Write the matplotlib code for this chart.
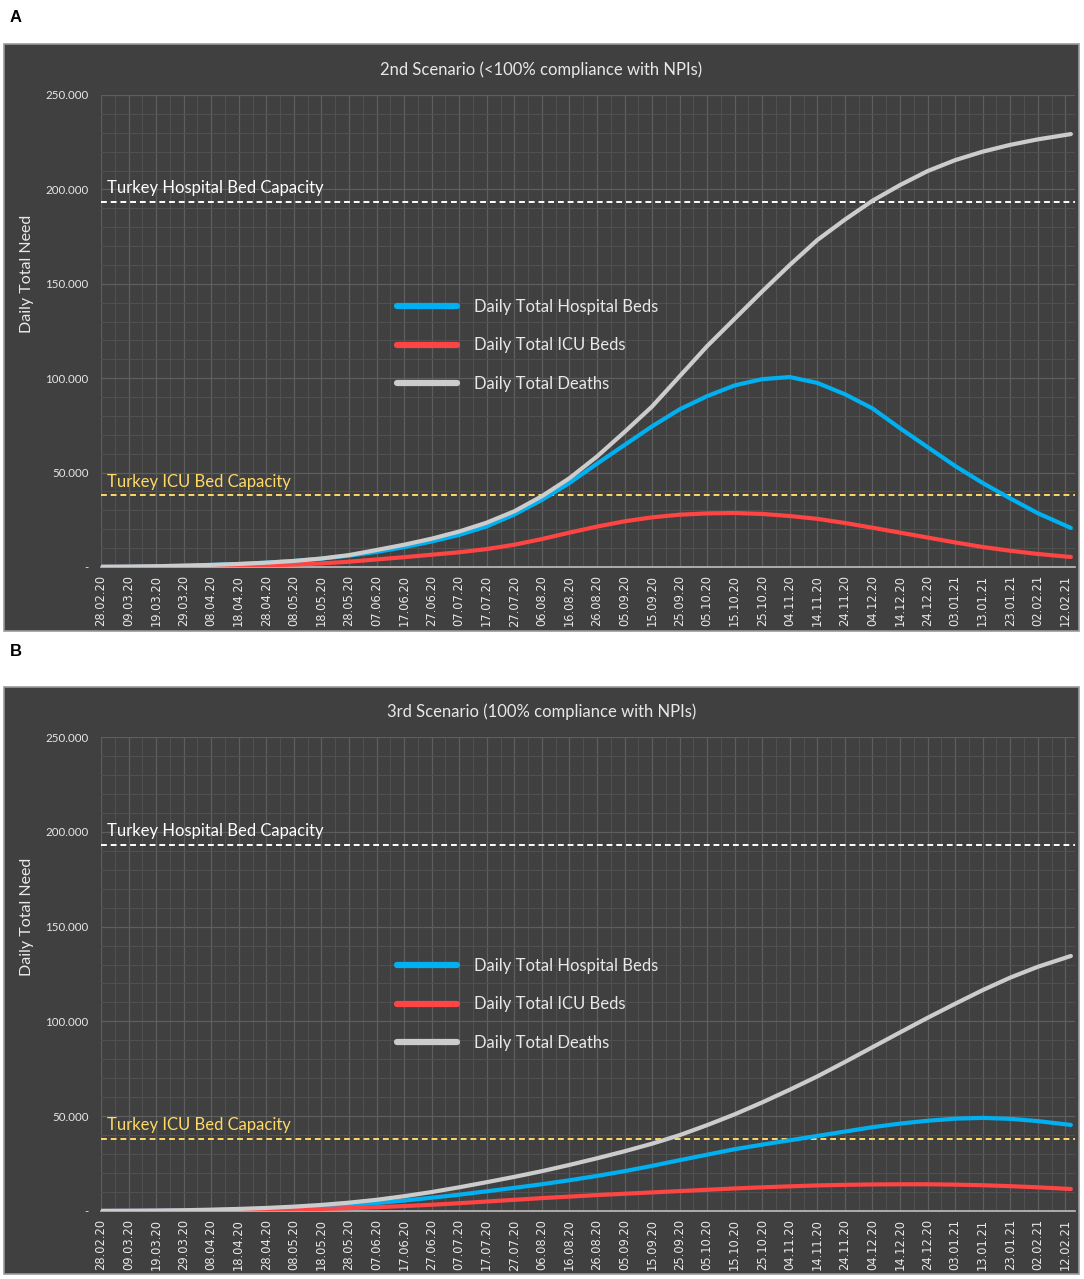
import matplotlib
matplotlib.use("Agg")
import matplotlib.pyplot as plt
import matplotlib.dates as mdates
from matplotlib.patches import Rectangle
from matplotlib.ticker import FuncFormatter, MultipleLocator
import pandas as pd

# ---------------- data ----------------
start = pd.Timestamp("2020-02-28")
day_offsets = list(range(0, 350, 10)) + [352]
dates = [start + pd.Timedelta(days=d) for d in day_offsets]

tick_dates = [start + pd.Timedelta(days=d) for d in range(0, 351, 10)]

hosp_capacity = 193300
icu_capacity = 38100

# Scenario 2 (values in thousands)
s2_hospital = [0.1, 0.2, 0.4, 0.7, 1.1, 1.6, 2.3, 3.2, 4.4, 6.0, 8.0, 10.5, 13.5, 17.0,
               21.5, 27.8, 35.5, 44.5, 54.7, 64.6, 74.5, 83.5, 90.5, 96.2, 99.5, 100.6,
               97.5, 91.5, 84.0, 73.5, 63.5, 53.5, 44.5, 36.3, 28.5, 20.7]
s2_icu = [0.05, 0.1, 0.15, 0.25, 0.4, 0.6, 0.9, 1.3, 1.9, 2.8, 4.0, 5.2, 6.5, 7.8,
          9.5, 11.8, 14.8, 18.2, 21.4, 24.2, 26.3, 27.7, 28.4, 28.6, 28.1, 27.0,
          25.5, 23.3, 20.8, 18.2, 15.6, 13.0, 10.6, 8.6, 6.9, 5.3]
s2_deaths = [0.1, 0.2, 0.4, 0.7, 1.1, 1.6, 2.3, 3.2, 4.5, 6.3, 9.0, 11.8, 15.0, 18.8,
             23.5, 29.5, 37.5, 47.0, 58.5, 71.5, 85.0, 101.0, 117.0, 131.5, 146.0, 160.0,
             173.2, 184.0, 194.0, 202.3, 209.7, 215.5, 220.0, 223.6, 226.5, 229.3]

# Scenario 3 (values in thousands)
s3_hospital = [0.05, 0.1, 0.2, 0.3, 0.5, 0.8, 1.2, 1.7, 2.4, 3.2, 4.2, 5.5, 7.0, 8.6,
               10.4, 12.2, 14.1, 16.2, 18.5, 21.0, 23.8, 26.8, 29.7, 32.6, 35.0, 37.3,
               39.6, 41.9, 44.2, 46.1, 47.6, 48.7, 49.1, 48.6, 47.4, 45.4]
s3_icu = [0.02, 0.05, 0.1, 0.15, 0.25, 0.4, 0.55, 0.8, 1.1, 1.5, 2.0, 2.6, 3.3, 4.1,
          5.0, 5.9, 6.8, 7.6, 8.4, 9.1, 9.8, 10.5, 11.2, 11.9, 12.5, 13.0,
          13.5, 13.8, 14.0, 14.1, 14.1, 13.9, 13.6, 13.1, 12.5, 11.6]
s3_deaths = [0.05, 0.1, 0.2, 0.4, 0.7, 1.1, 1.6, 2.3, 3.2, 4.4, 5.9, 7.8, 10.0, 12.5,
             15.2, 18.0, 21.0, 24.3, 27.8, 31.5, 35.5, 40.0, 45.3, 51.0, 57.3, 64.0,
             71.0, 78.6, 86.4, 94.2, 101.9, 109.3, 116.5, 123.1, 128.8, 134.5]

series_labels = ["Daily Total Hospital Beds", "Daily Total ICU Beds", "Daily Total Deaths"]
series_colors = ["#00b0f0", "#ff4444", "#cccccc"]

titles = ["2nd Scenario (<100% compliance with NPIs)", "3rd Scenario (100% compliance with NPIs)"]
panel_letters = ["A", "B"]
ylabel = "Daily Total Need"
hosp_text = "Turkey Hospital Bed Capacity"
icu_text = "Turkey ICU Bed Capacity"

# ---------------- figure ----------------
W, H = 1084, 1279
fig = plt.figure(figsize=(W / 100, H / 100), dpi=100)
fig.patch.set_facecolor("white")
FONT = ["Lato", "DejaVu Sans"]
plt.rcParams["font.family"] = FONT

BG = "#404040"
TXT = "#e8e8e8"
YEL = "#ffd966"

panels = [
    dict(box=(4, 44, 1079, 631), plot=(101, 95, 1075, 567), title_y=70, letter_y=18,
         data=(s2_hospital, s2_icu, s2_deaths), leg_top=299),
    dict(box=(4, 687, 1079, 1274), plot=(101, 737, 1075, 1211), title_y=712, letter_y=652,
         data=(s3_hospital, s3_icu, s3_deaths), leg_top=958),
]

def fx(x):
    return x / W

def fy(y):
    return 1 - y / H

yfmt = FuncFormatter(lambda v, p: "-" if abs(v) < 1 else f"{v:,.0f}".replace(",", "."))

for i, pnl in enumerate(panels):
    x0, y0, x1, y1 = pnl["box"]
    fig.patches.append(Rectangle((fx(x0), fy(y1)), fx(x1 - x0), (y1 - y0) / H,
                                 transform=fig.transFigure, facecolor=BG,
                                 edgecolor="#9a9a9a", linewidth=1.2, zorder=-5))
    fig.text(fx(10), fy(pnl["letter_y"]), panel_letters[i], fontsize=12, fontweight="bold",
             family=["Liberation Sans", "DejaVu Sans"], color="black", va="center", ha="left")
    fig.text(fx((x0 + x1) / 2), fy(pnl["title_y"]), titles[i], fontsize=12, color=TXT,
             ha="center", va="center")

    px0, py0, px1, py1 = pnl["plot"]
    ax = fig.add_axes([fx(px0), fy(py1), fx(px1 - px0), (py1 - py0) / H])
    ax.set_facecolor("none")
    ax.set_zorder(2)

    for vals, lab, col in zip(pnl["data"], series_labels, series_colors):
        ax.plot(dates, [v * 1000 for v in vals], color=col, lw=3.0, label=lab,
                solid_capstyle="round", solid_joinstyle="round", zorder=4)

    ax.axhline(hosp_capacity, color="white", lw=1.4, ls=(0, (3, 2)), zorder=3)
    ax.axhline(icu_capacity, color=YEL, lw=1.4, ls=(0, (3, 2)), zorder=3)

    ax.annotate(hosp_text, xy=(start + pd.Timedelta(days=2), hosp_capacity), xytext=(0, 4),
                textcoords="offset points", color="white", fontsize=12, va="bottom", ha="left")
    ax.annotate(icu_text, xy=(start + pd.Timedelta(days=2), icu_capacity), xytext=(0, 4),
                textcoords="offset points", color=YEL, fontsize=12, va="bottom", ha="left")

    ax.set_ylim(0, 250000)
    ax.set_xlim(start, start + pd.Timedelta(days=353.5))
    ax.yaxis.set_major_locator(MultipleLocator(50000))
    ax.yaxis.set_minor_locator(MultipleLocator(10000))
    ax.yaxis.set_major_formatter(yfmt)
    ax.set_xticks(tick_dates)
    ax.set_xticks([start + pd.Timedelta(days=d) for d in range(5, 354, 10)], minor=True)
    ax.xaxis.set_major_formatter(mdates.DateFormatter("%d.%m.%y"))
    ax.tick_params(axis="x", which="both", length=0, rotation=90, labelcolor=TXT, pad=6)
    ax.tick_params(axis="y", which="both", length=0, labelsize=8.3, labelcolor=TXT, pad=9)
    for lbl in ax.get_xticklabels():
        lbl.set_family(["DejaVu Sans"])
        lbl.set_fontsize(8.3)

    ax.grid(True, which="major", color="#5e5e5e", lw=0.9, zorder=1)
    ax.grid(True, which="minor", color="#505050", lw=0.8, zorder=1)
    ax.set_axisbelow(True)
    for s in ["top", "right", "left"]:
        ax.spines[s].set_visible(False)
    ax.spines["bottom"].set_color("#bfbfbf")
    ax.spines["bottom"].set_linewidth(1.2)

    fig.text(fx(27), fy((py0 + py1) / 2 - 57), ylabel, rotation=90, fontsize=11.5, color=TXT,
             ha="center", va="center")

    leg_x = (397 - px0) / (px1 - px0)
    leg_y = (py1 - pnl["leg_top"]) / (py1 - py0)
    leg = ax.legend(loc="upper left", bbox_to_anchor=(leg_x, leg_y), frameon=False,
                    fontsize=12, labelcolor=TXT, handlelength=3.6, handletextpad=1.0,
                    labelspacing=1.35, borderpad=0, borderaxespad=0)
    for h in leg.get_lines():
        h.set_linewidth(4.5)

fig.savefig("out.png", dpi=100, facecolor=fig.get_facecolor())
